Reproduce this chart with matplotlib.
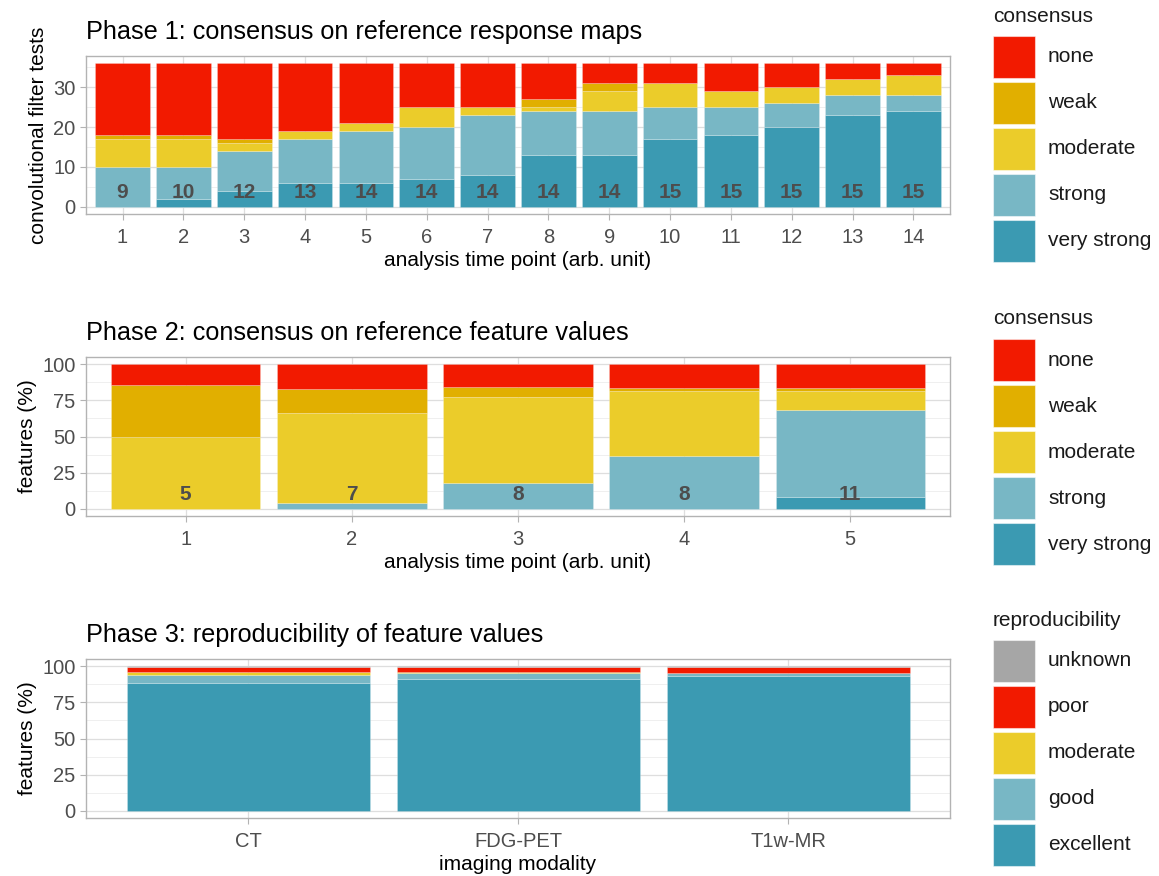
import numpy as np
import matplotlib
matplotlib.use('Agg')
import matplotlib.pyplot as plt
from matplotlib.patches import Rectangle

plt.rcParams['font.family'] = ['Liberation Sans', 'DejaVu Sans']

# colours (Zissou-like palette)
col_none = '#F21A00'
col_weak = '#E1AF00'
col_moderate = '#EBCC2A'
col_strong = '#78B7C5'
col_vstrong = '#3B9AB2'
col_unknown = '#A6A6A6'

# ---- Phase 1 data: number of tests per consensus level
p1_time = list(range(1, 15))
p1_vstrong = [0, 2, 4, 6, 6, 7, 8, 13, 13, 17, 18, 20, 23, 24]
p1_strong = [10, 8, 10, 11, 13, 13, 15, 11, 11, 8, 7, 6, 5, 4]
p1_moderate = [7, 7, 2, 2, 2, 5, 2, 1, 5, 6, 4, 4, 4, 5]
p1_weak = [1, 1, 1, 0, 0, 0, 0, 2, 2, 0, 0, 0, 0, 0]
p1_none = [18, 18, 19, 17, 15, 11, 11, 9, 5, 5, 7, 6, 4, 3]
p1_labels = [9, 10, 12, 13, 14, 14, 14, 14, 14, 15, 15, 15, 15, 15]

# ---- Phase 2 data: percent of features per consensus level
p2_time = [1, 2, 3, 4, 5]
p2_vstrong = [0, 0, 0, 0, 8.0]
p2_strong = [0, 4.2, 17.9, 36.3, 60.3]
p2_moderate = [50.0, 62.2, 59.1, 45.5, 13.5]
p2_weak = [35.7, 16.4, 6.9, 1.6, 1.6]
p2_none = [14.3, 17.2, 16.1, 16.6, 16.6]
p2_labels = [5, 7, 8, 8, 11]

# ---- Phase 3 data: percent of features per reproducibility level
p3_modality = ['CT', 'FDG-PET', 'T1w-MR']
p3_excellent = [88.1, 91.5, 92.9]
p3_good = [5.5, 3.9, 2.3]
p3_moderate = [2.3, 0.7, 0.4]
p3_poor = [3.4, 3.4, 3.9]
p3_unknown = [0.7, 0.5, 0.5]

consensus_levels = ['none', 'weak', 'moderate', 'strong', 'very strong']
consensus_cols = [col_none, col_weak, col_moderate, col_strong, col_vstrong]
repro_levels = ['unknown', 'poor', 'moderate', 'good', 'excellent']
repro_cols = [col_unknown, col_none, col_moderate, col_strong, col_vstrong]

W, H = 1159, 876
fig = plt.figure(figsize=(W / 100, H / 100), dpi=100)

FS = 15
TITLE_FS = 18.2


def box(left, top, right, bottom):
    return [left / W, 1 - bottom / H, (right - left) / W, (bottom - top) / H]


def style(ax, ylim, yticks, yminor):
    ax.set_ylim(*ylim)
    ax.set_yticks(yticks)
    ax.set_yticks(yminor, minor=True)
    ax.grid(which='major', color='#DEDEDE', linewidth=0.9)
    ax.grid(which='minor', axis='y', color='#EDEDED', linewidth=0.6)
    ax.set_axisbelow(True)
    for s in ax.spines.values():
        s.set_color('#B3B3B3')
        s.set_linewidth(1.0)
    ax.tick_params(which='major', colors='#B3B3B3', labelcolor='#4D4D4D',
                   labelsize=14.5, length=4.5, width=0.8)
    ax.tick_params(axis='x', pad=5.5)
    ax.tick_params(axis='y', pad=3)
    ax.tick_params(which='minor', length=0)


def stack(ax, x, series, cols):
    bottom = np.zeros(len(x))
    for vals, c in zip(series, cols):
        ax.bar(x, vals, bottom=bottom, width=0.9, color=c,
               edgecolor=(1, 1, 1, 0.25), linewidth=0.6)
        bottom = bottom + np.array(vals)


# Phase 1
ax1 = fig.add_axes(box(86, 56, 950, 214))
stack(ax1, p1_time, [p1_vstrong, p1_strong, p1_moderate, p1_weak, p1_none],
      [col_vstrong, col_strong, col_moderate, col_weak, col_none])
for x, lab in zip(p1_time, p1_labels):
    ax1.text(x, 3.6, str(lab), ha='center', va='center', fontsize=FS,
             fontweight='bold', color='#4D4D4D')
ax1.set_xlim(0.4, 14.6)
ax1.set_xticks(p1_time)
style(ax1, (-1.8, 37.8), [0, 10, 20, 30], [5, 15, 25, 35])
ax1.set_xlabel('analysis time point (arb. unit)', fontsize=FS, labelpad=3)
ax1.set_ylabel('convolutional filter tests', fontsize=FS, labelpad=4)
ax1.set_title('Phase 1: consensus on reference response maps', loc='left',
              fontsize=TITLE_FS, pad=12)

# Phase 2
ax2 = fig.add_axes(box(86, 357, 950, 516))
stack(ax2, p2_time, [p2_vstrong, p2_strong, p2_moderate, p2_weak, p2_none],
      [col_vstrong, col_strong, col_moderate, col_weak, col_none])
for x, lab in zip(p2_time, p2_labels):
    ax2.text(x, 10, str(lab), ha='center', va='center', fontsize=FS,
             fontweight='bold', color='#4D4D4D')
ax2.set_xlim(0.4, 5.6)
ax2.set_xticks(p2_time)
style(ax2, (-5, 105), [0, 25, 50, 75, 100], [12.5, 37.5, 62.5, 87.5])
ax2.set_xlabel('analysis time point (arb. unit)', fontsize=FS, labelpad=3)
ax2.set_ylabel('features (%)', fontsize=FS, labelpad=4)
ax2.set_title('Phase 2: consensus on reference feature values', loc='left',
              fontsize=TITLE_FS, pad=12)

# Phase 3
ax3 = fig.add_axes(box(86, 659, 950, 818))
x3 = np.arange(1, len(p3_modality) + 1)
stack(ax3, x3, [p3_excellent, p3_good, p3_moderate, p3_poor, p3_unknown],
      [col_vstrong, col_strong, col_moderate, col_none, col_unknown])
ax3.set_xlim(0.4, 3.6)
ax3.set_xticks(x3)
ax3.set_xticklabels(p3_modality)
style(ax3, (-5, 105), [0, 25, 50, 75, 100], [12.5, 37.5, 62.5, 87.5])
ax3.set_xlabel('imaging modality', fontsize=FS, labelpad=3)
ax3.set_ylabel('features (%)', fontsize=FS, labelpad=4)
ax3.set_title('Phase 3: reproducibility of feature values', loc='left',
              fontsize=TITLE_FS, pad=12)


# legends drawn in figure pixels
def legend(title, title_y, levels, cols, first_y):
    fig.text(993 / W, 1 - title_y / H, title, fontsize=FS, va='center',
             ha='left', color='#1A1A1A')
    for k, (lev, c) in enumerate(zip(levels, cols)):
        cy = first_y + 46 * k
        fig.add_artist(Rectangle((993 / W, 1 - (cy + 21) / H), 42 / W, 42 / H,
                                 transform=fig.transFigure, facecolor=c,
                                 edgecolor=(1, 1, 1, 0.5), linewidth=0.8))
        fig.text(1048 / W, 1 - cy / H, lev, fontsize=FS, va='center',
                 ha='left', color='#1A1A1A')


legend('consensus', 17, consensus_levels, consensus_cols, 57)
legend('consensus', 318, consensus_levels, consensus_cols, 360)
legend('reproducibility', 620, repro_levels, repro_cols, 661)

fig.savefig('out.png', dpi=100)
